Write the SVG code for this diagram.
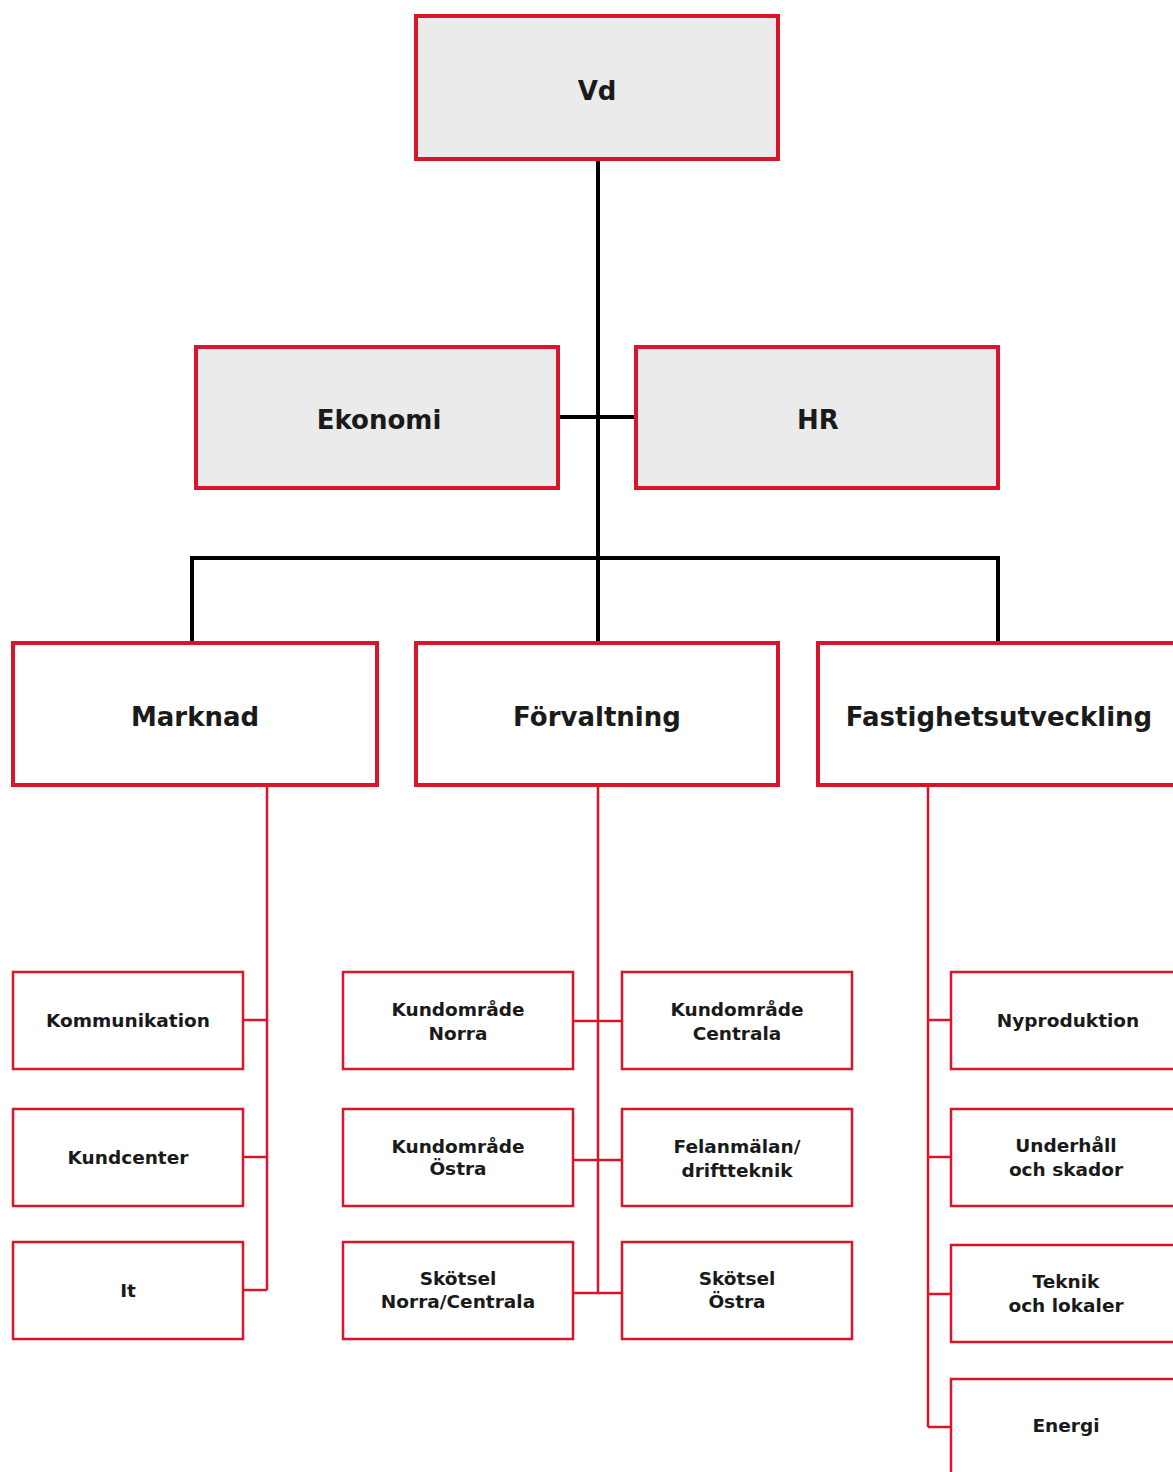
<svg xmlns="http://www.w3.org/2000/svg" width="1173" height="1472" viewBox="0 0 1173 1472">
<style>
.top{fill:#ebebeb;stroke:#d8152a;stroke-width:4}
.mid{fill:#ffffff;stroke:#d8152a;stroke-width:4}
.sm{fill:#ffffff;stroke:#d8152a;stroke-width:2.5}
.blk{fill:none;stroke:#000;stroke-width:4}
.red{fill:none;stroke:#d8152a;stroke-width:2.5}
.t1{font-family:"DejaVu Sans","Liberation Sans",sans-serif;font-weight:bold;font-size:26px;fill:#1a1a1a;text-anchor:middle}
.t2{font-family:"DejaVu Sans","Liberation Sans",sans-serif;font-weight:bold;font-size:18.5px;fill:#1a1a1a;text-anchor:middle}
</style>
<rect width="1173" height="1472" fill="#fff"/>
<g id="connectors">
<path class="blk" d="M598 159V642M558 417H636M192 642V558H998V642"/>
<path class="red" d="M267 785V1290M243 1020H267M243 1157H267M243 1290H267"/>
<path class="red" d="M598 785V1293M573 1021H622M573 1160H622M573 1293H622"/>
<path class="red" d="M928 785V1427M928 1020H951M928 1157H951M928 1294H951M928 1427H951"/>
</g>
<g id="vd"><rect class="top" x="416" y="16" width="362" height="143"/><text class="t1" x="597" y="100">Vd</text></g>
<g id="ekonomi"><rect class="top" x="196" y="347" width="362" height="141"/><text class="t1" x="379" y="429">Ekonomi</text></g>
<g id="hr"><rect class="top" x="636" y="347" width="362" height="141"/><text class="t1" x="818" y="429">HR</text></g>
<g id="marknad"><rect class="mid" x="13" y="643" width="364" height="142"/><text class="t1" x="195" y="726">Marknad</text></g>
<g id="forvaltning"><rect class="mid" x="416" y="643" width="362" height="142"/><text class="t1" x="597" y="726">Förvaltning</text></g>
<g id="fastighetsutveckling"><rect class="mid" x="818" y="643" width="370" height="142"/><text class="t1" x="999" y="726">Fastighetsutveckling</text></g>
<g id="kommunikation"><rect class="sm" x="13" y="972" width="230" height="97"/><text class="t2" x="128" y="1027">Kommunikation</text></g>
<g id="kundcenter"><rect class="sm" x="13" y="1109" width="230" height="97"/><text class="t2" x="128" y="1164">Kundcenter</text></g>
<g id="it"><rect class="sm" x="13" y="1242" width="230" height="97"/><text class="t2" x="128" y="1297">It</text></g>
<g id="kundomrade-norra"><rect class="sm" x="343" y="972" width="230" height="97"/><text class="t2" x="458" y="1016">Kundområde</text><text class="t2" x="458" y="1040">Norra</text></g>
<g id="kundomrade-centrala"><rect class="sm" x="622" y="972" width="230" height="97"/><text class="t2" x="737" y="1016">Kundområde</text><text class="t2" x="737" y="1040">Centrala</text></g>
<g id="kundomrade-ostra"><rect class="sm" x="343" y="1109" width="230" height="97"/><text class="t2" x="458" y="1153">Kundområde</text><text class="t2" x="458" y="1175">Östra</text></g>
<g id="felanmalan"><rect class="sm" x="622" y="1109" width="230" height="97"/><text class="t2" x="737" y="1153">Felanmälan/</text><text class="t2" x="737" y="1177">driftteknik</text></g>
<g id="skotsel-norra"><rect class="sm" x="343" y="1242" width="230" height="97"/><text class="t2" x="458" y="1285">Skötsel</text><text class="t2" x="458" y="1308">Norra/Centrala</text></g>
<g id="skotsel-ostra"><rect class="sm" x="622" y="1242" width="230" height="97"/><text class="t2" x="737" y="1285">Skötsel</text><text class="t2" x="737" y="1308">Östra</text></g>
<g id="nyproduktion"><rect class="sm" x="951" y="972" width="240" height="97"/><text class="t2" x="1068" y="1027">Nyproduktion</text></g>
<g id="underhall"><rect class="sm" x="951" y="1109" width="240" height="97"/><text class="t2" x="1066" y="1152">Underhåll</text><text class="t2" x="1066" y="1176">och skador</text></g>
<g id="teknik"><rect class="sm" x="951" y="1245" width="240" height="97"/><text class="t2" x="1066" y="1288">Teknik</text><text class="t2" x="1066" y="1312">och lokaler</text></g>
<g id="energi"><rect class="sm" x="951" y="1379" width="240" height="120"/><text class="t2" x="1066" y="1432">Energi</text></g>
</svg>
